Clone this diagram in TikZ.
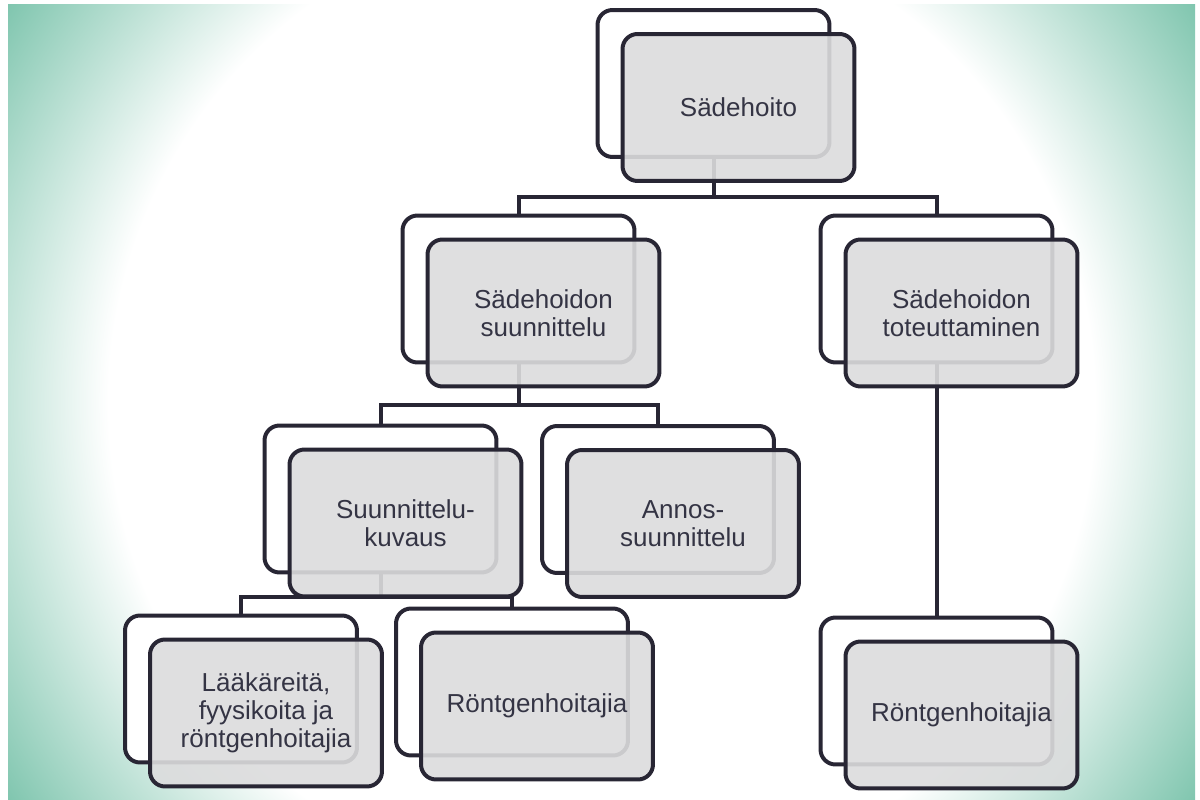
\documentclass[tikz,border=0pt]{standalone}
\usepackage{fontspec}
\setmainfont{Liberation Sans}
\definecolor{bgteal}{RGB}{122,195,171}
\definecolor{edge}{RGB}{40,38,52}
\definecolor{txt}{RGB}{52,52,68}
\definecolor{frontfill}{RGB}{220,220,221}
\pgfdeclareradialshading{bgrad}{\pgfpoint{0bp}{0bp}}{color(0bp)=(white); color(17bp)=(white); color(25bp)=(bgteal); color(50bp)=(bgteal)}
\tikzset{
  backbox/.style={draw=edge, line width=0.08cm, rounded corners=0.3cm, fill=white,
    minimum width=4.64cm, minimum height=2.94cm, inner sep=0pt},
  frontbox/.style={draw=edge, line width=0.08cm, rounded corners=0.3cm, fill=frontfill,
    fill opacity=0.9, text opacity=1, minimum width=4.64cm, minimum height=2.94cm,
    inner sep=0pt, text=txt, align=center, font=\fontsize{14.8}{16}\selectfont,
    xshift=0.5cm, yshift=-0.48cm},
  conn/.style={draw=edge, line width=0.08cm},
}
\begin{document}
\begin{tikzpicture}[x=0.02cm,y=-0.02cm]
\fill[white] (0,0) rectangle (1200,800);
\useasboundingbox (0,0) rectangle (1200,800);
\begin{scope}
  \clip (8,5) rectangle (1195,800);
  \shade[shading=bgrad] (601.5,402.5) circle[radius=14.5cm];
\end{scope}
% back boxes
\node[backbox] (b1) at (713.5,83.5) {};
\node[backbox] (b2) at (518.5,289) {};
\node[backbox] (b3) at (936.5,289) {};
\node[backbox] (b4) at (380.5,499) {};
\node[backbox] (b5) at (658,499.5) {};
\node[backbox] (b6) at (241,689) {};
\node[backbox] (b7) at (512,682) {};
\node[backbox] (b8) at (936.5,691) {};
% junction levels
\coordinate (h1) at (0,197);
\coordinate (h2) at (0,405);
\coordinate (h3) at (0,597);
% connectors
\draw[conn] (b1.south) -- (b1.south |- h1);
\draw[conn] (b2.north) -- (b2.north |- h1) -- (b3.north |- h1) -- (b3.north);
\draw[conn] (b2.south) -- (b2.south |- h2);
\draw[conn] (b4.north) -- (b4.north |- h2) -- (b5.north |- h2) -- (b5.north);
\draw[conn] (b4.south) -- (b4.south |- h3);
\draw[conn] (b6.north) -- (b6.north |- h3) -- (b7.north |- h3) -- (b7.north);
\draw[conn] (b3.south) -- (b8.north);
% front boxes
\node[frontbox] (f1) at (b1) {Sädehoito};
\node[frontbox] (f2) at (b2) {Sädehoidon\\suunnittelu};
\node[frontbox] (f3) at (b3) {Sädehoidon\\toteuttaminen};
\node[frontbox] (f4) at (b4) {Suunnittelu-\\kuvaus};
\node[frontbox] (f5) at (b5) {Annos-\\suunnittelu};
\node[frontbox] (f6) at (b6) {Lääkäreitä,\\fyysikoita ja\\röntgenhoitajia};
\node[frontbox] (f7) at (b7) {Röntgenhoitajia};
\node[frontbox] (f8) at (b8) {Röntgenhoitajia};
\end{tikzpicture}
\end{document}
